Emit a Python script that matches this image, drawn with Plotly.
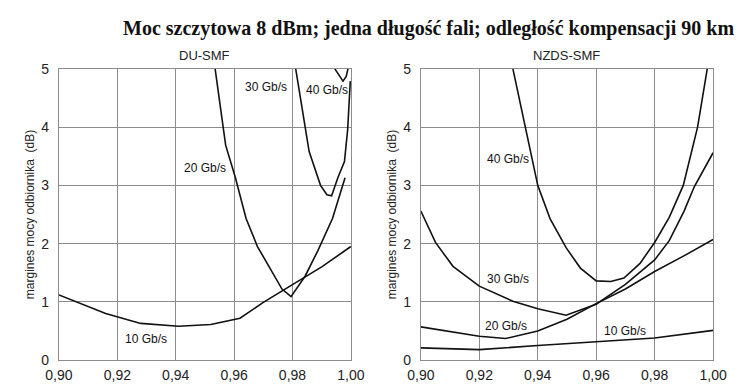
import plotly.graph_objects as go

# ---------------- data ----------------
du_10_x = [0.900, 0.916, 0.928, 0.941, 0.952, 0.962, 0.970, 0.980, 0.990, 1.000]
du_10_y = [1.12, 0.80, 0.63, 0.58, 0.61, 0.72, 0.99, 1.30, 1.60, 1.95]
du_20_x = [0.9535, 0.9571, 0.9604, 0.9641, 0.9680, 0.9764, 0.9795, 0.9843, 0.9887, 0.9937, 0.9980]
du_20_y = [5.00, 3.69, 3.14, 2.43, 1.95, 1.22, 1.09, 1.44, 1.88, 2.43, 3.13]
du_30_x = [0.9811, 0.9857, 0.9896, 0.9918, 0.9934, 0.9956, 0.9978, 0.9989, 0.9998]
du_30_y = [5.00, 3.58, 3.00, 2.84, 2.82, 3.14, 3.41, 3.96, 4.79]
du_40_x = [0.9945, 0.9973, 0.9984, 0.9990]
du_40_y = [5.00, 4.79, 4.87, 5.00]

nz_10_x = [0.90, 0.92, 0.94, 0.96, 0.98, 1.00]
nz_10_y = [0.21, 0.18, 0.25, 0.31, 0.38, 0.51]
nz_20_x = [0.900, 0.920, 0.929, 0.940, 0.950, 0.960, 0.970, 0.980, 0.990, 1.000]
nz_20_y = [0.57, 0.41, 0.37, 0.50, 0.70, 0.97, 1.22, 1.52, 1.79, 2.07]
nz_30_x = [0.900, 0.905, 0.911, 0.920, 0.9315, 0.940, 0.9497, 0.9563, 0.960, 0.970, 0.980, 0.985, 0.990, 0.9936, 1.000]
nz_30_y = [2.56, 2.02, 1.61, 1.27, 1.01, 0.88, 0.77, 0.89, 0.96, 1.30, 1.72, 2.05, 2.55, 2.98, 3.56]
nz_40_x = [0.9315, 0.9359, 0.9400, 0.9442, 0.9497, 0.9546, 0.9600, 0.9650, 0.9695, 0.9750, 0.9800, 0.9850, 0.9898, 0.9947, 0.9980]
nz_40_y = [5.00, 3.97, 3.00, 2.43, 1.93, 1.58, 1.36, 1.35, 1.41, 1.66, 2.02, 2.45, 3.00, 4.00, 5.00]

labels = ["10 Gb/s", "20 Gb/s", "30 Gb/s", "40 Gb/s"]
du_label_x = [0.9297, 0.9500, 0.9709, 0.9918]
du_label_y = [0.36, 3.30, 4.69, 4.64]
nz_label_x = [0.9700, 0.9293, 0.9299, 0.9297]
nz_label_y = [0.50, 0.59, 1.39, 3.46]

panel_titles = ["DU-SMF", "NZDS-SMF"]
title_text = "Moc szczytowa 8 dBm; jedna długość fali; odległość kompensacji 90 km"
y_title = "margines mocy odbiornika  (dB)"
x_ticks = [0.90, 0.92, 0.94, 0.96, 0.98, 1.00]
y_ticks = [0, 1, 2, 3, 4, 5]

# ---------------- figure ----------------
fig = go.Figure()
line_style = dict(color="#111111", width=1.6)

du_series = [(du_10_x, du_10_y), (du_20_x, du_20_y), (du_30_x, du_30_y), (du_40_x, du_40_y)]
nz_series = [(nz_10_x, nz_10_y), (nz_20_x, nz_20_y), (nz_30_x, nz_30_y), (nz_40_x, nz_40_y)]

for (xs, ys), name in zip(du_series, labels):
    fig.add_trace(go.Scatter(x=xs, y=ys, mode="lines", line=line_style, name=name,
                             xaxis="x", yaxis="y", showlegend=False, hoverinfo="skip"))
for (xs, ys), name in zip(nz_series, labels):
    fig.add_trace(go.Scatter(x=xs, y=ys, mode="lines", line=line_style, name=name,
                             xaxis="x2", yaxis="y2", showlegend=False, hoverinfo="skip"))

label_font = dict(family="Liberation Sans, Arial, sans-serif", size=12, color="#111111")
for t, lx, ly in zip(labels, du_label_x, du_label_y):
    fig.add_annotation(x=lx, y=ly, xref="x", yref="y", text=t, showarrow=False,
                       font=label_font)
for t, lx, ly in zip(labels, nz_label_x, nz_label_y):
    fig.add_annotation(x=lx, y=ly, xref="x2", yref="y2", text=t, showarrow=False,
                       font=label_font)

W, H = 747, 389
left_dom = [46.7 / W, 350.0 / W]
right_dom = [422.7 / W, 726.3 / W]
y_dom = [1 - 367.2 / H, 1 - 63.5 / H]

tick_font = dict(family="Liberation Sans, Arial, sans-serif", size=14, color="#222222")
grid_col = "#8c8c8c"

def xaxis(dom, anchor):
    return dict(domain=dom, anchor=anchor, range=[0.9, 1.0], tickvals=x_ticks,
                tickformat=".2f", showgrid=True, gridcolor=grid_col, gridwidth=1,
                showline=True, linecolor=grid_col, linewidth=1, mirror=True,
                zeroline=False, ticks="", tickfont=tick_font, ticklabelstandoff=2)

def yaxis(dom, anchor):
    return dict(domain=dom, anchor=anchor, range=[0, 5], tickvals=y_ticks,
                showgrid=True, gridcolor=grid_col, gridwidth=1,
                showline=True, linecolor=grid_col, linewidth=1, mirror=True,
                zeroline=False, ticks="", tickfont=tick_font, ticklabelstandoff=6,
                title=dict(text=y_title, font=dict(family="Liberation Sans, Arial, sans-serif",
                                                   size=12, color="#222222"), standoff=4))

fig.update_layout(
    width=W, height=H,
    margin=dict(l=0, r=0, t=0, b=0),
    paper_bgcolor="white", plot_bgcolor="white",
    separators=",.",
    xaxis=xaxis(left_dom, "y"),
    yaxis=yaxis(y_dom, "x"),
    xaxis2=xaxis(right_dom, "y2"),
    yaxis2=yaxis(y_dom, "x2"),
)

fig.add_annotation(text="<b>" + title_text + "</b>", xref="paper", yref="paper",
                   x=(117 + 745) / 2 / W, y=1 - 21 / H, showarrow=False,
                   xanchor="center", yanchor="middle",
                   font=dict(family="Liberation Serif, Times New Roman, serif", size=20, color="#111111"))
for pt, dom in zip(panel_titles, [left_dom, right_dom]):
    fig.add_annotation(text=pt, xref="paper", yref="paper",
                       x=(dom[0] + dom[1]) / 2, y=1 - 50 / H, showarrow=False,
                       xanchor="center", yanchor="middle",
                       font=dict(family="Liberation Sans, Arial, sans-serif", size=13, color="#222222"))

fig.write_html("out.html")
